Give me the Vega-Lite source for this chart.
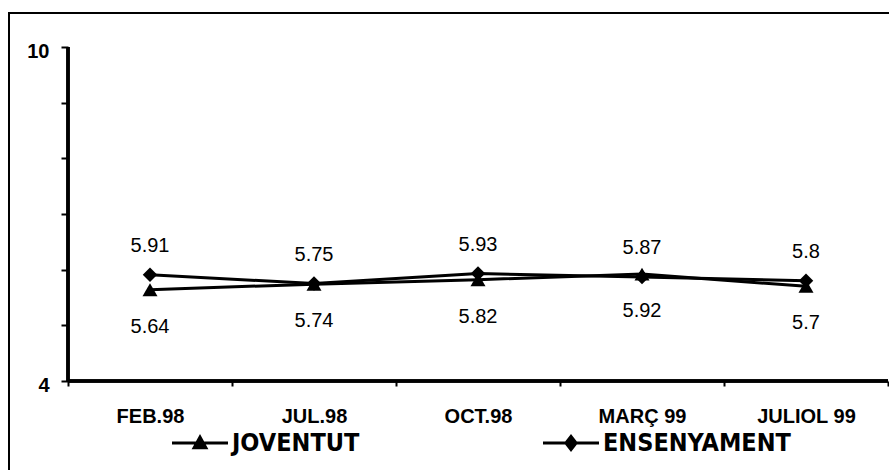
{
  "$schema": "https://vega.github.io/schema/vega-lite/v6.json",
  "width": 884,
  "height": 470,
  "autosize": {"type": "none"},
  "padding": {"left": 9, "top": 13, "right": 0, "bottom": 0},
  "background": "white",
  "config": {
    "view": {"stroke": "black", "strokeWidth": 2},
    "axis": {"grid": false, "labelColor": "black", "tickColor": "black", "labelFont": "Liberation Sans", "labelFontWeight": "bold", "labelFontSize": 20}
  },
  "datasets": {
    "scores": [
      {"date": "FEB.98", "series": "JOVENTUT", "value": 5.64},
      {"date": "JUL.98", "series": "JOVENTUT", "value": 5.74},
      {"date": "OCT.98", "series": "JOVENTUT", "value": 5.82},
      {"date": "MARÇ 99", "series": "JOVENTUT", "value": 5.92},
      {"date": "JULIOL 99", "series": "JOVENTUT", "value": 5.7},
      {"date": "FEB.98", "series": "ENSENYAMENT", "value": 5.91},
      {"date": "JUL.98", "series": "ENSENYAMENT", "value": 5.75},
      {"date": "OCT.98", "series": "ENSENYAMENT", "value": 5.93},
      {"date": "MARÇ 99", "series": "ENSENYAMENT", "value": 5.87},
      {"date": "JULIOL 99", "series": "ENSENYAMENT", "value": 5.8}
    ]
  },
  "data": {"name": "scores"},
  "layer": [
    {
      "mark": {"type": "line", "color": "black", "strokeWidth": 3},
      "encoding": {
        "x": {
          "field": "date",
          "type": "nominal",
          "sort": null,
          "scale": {"type": "band", "domain": ["FEB.98", "JUL.98", "OCT.98", "MARÇ 99", "JULIOL 99"], "paddingInner": 0, "paddingOuter": 0.1951, "align": 0.922},
          "axis": {"title": null, "orient": "bottom", "offset": -102, "domain": false, "tickBand": "extent", "tickSize": 5, "tickWidth": 2, "labelAngle": 0, "labelPadding": 20}
        },
        "y": {
          "field": "value",
          "type": "quantitative",
          "scale": {"domain": [2.1677, 10.6108], "nice": false, "zero": false},
          "axis": {"title": null, "offset": -59, "domain": false, "values": [4, 5, 6, 7, 8, 9, 10], "format": "d", "labelExpr": "datum.value == 4 || datum.value == 10 ? datum.label : ''", "tickSize": 7, "tickWidth": 2, "labelPadding": 12, "labelOffset": 4}
        },
        "detail": {"field": "series"}
      }
    },
    {
      "mark": {"type": "rule", "color": "black", "strokeWidth": 2.5},
      "encoding": {
        "x": {"datum": "FEB.98", "type": "nominal", "bandPosition": 0},
        "y": {"datum": 4, "type": "quantitative"},
        "y2": {"datum": 10}
      }
    },
    {
      "mark": {"type": "rule", "color": "black", "strokeWidth": 2.5},
      "encoding": {
        "x": {"datum": "FEB.98", "type": "nominal", "bandPosition": 0},
        "x2": {"datum": "JULIOL 99", "bandPosition": 1},
        "y": {"datum": 4, "type": "quantitative"}
      }
    },
    {
      "transform": [{"filter": "datum.series == 'JOVENTUT'"}],
      "mark": {"type": "point", "filled": true, "color": "black", "opacity": 1, "size": 225, "shape": "triangle-up"},
      "encoding": {
        "x": {"field": "date", "type": "nominal"},
        "y": {"field": "value", "type": "quantitative"}
      }
    },
    {
      "transform": [{"filter": "datum.series == 'ENSENYAMENT'"}],
      "mark": {"type": "point", "filled": true, "color": "black", "opacity": 1, "size": 210, "shape": "diamond"},
      "encoding": {
        "x": {"field": "date", "type": "nominal"},
        "y": {"field": "value", "type": "quantitative"}
      }
    },
    {
      "mark": {"type": "point", "filled": true, "color": "black", "opacity": 0, "size": 3136},
      "encoding": {
        "x": {"field": "date", "type": "nominal"},
        "y": {"field": "value", "type": "quantitative"},
        "shape": {
          "field": "series",
          "type": "nominal",
          "scale": {"domain": ["JOVENTUT", "ENSENYAMENT"], "range": ["M-1,-0.055H1V0.055H-1ZM-0.3,0.22L0,-0.32L0.3,0.22Z", "M-1,-0.055H1V0.055H-1ZM-0.25,0L0,-0.32L0.25,0L0,0.32Z"]},
          "legend": {
            "title": null,
            "orient": "none",
            "legendX": 163,
            "legendY": 402,
            "direction": "horizontal",
            "padding": 0,
            "symbolSize": 3136,
            "symbolStrokeWidth": 0,
            "symbolFillColor": "black",
            "symbolOpacity": 1,
            "labelFont": "DejaVu Sans Condensed",
            "labelFontSize": 25,
            "labelFontWeight": "bold",
            "labelColor": "black",
            "labelOffset": 4,
            "labelLimit": 400,
            "columnPadding": 183
          }
        }
      }
    },
    {
      "transform": [{"filter": "datum.series == 'ENSENYAMENT'"}],
      "mark": {"type": "text", "dy": -29, "baseline": "middle", "align": "center", "font": "Liberation Sans", "fontSize": 20, "color": "black"},
      "encoding": {
        "x": {"field": "date", "type": "nominal"},
        "y": {"field": "value", "type": "quantitative"},
        "text": {"field": "value", "type": "quantitative", "format": ".3~g"}
      }
    },
    {
      "transform": [{"filter": "datum.series == 'JOVENTUT'"}],
      "mark": {"type": "text", "dy": 37, "baseline": "middle", "align": "center", "font": "Liberation Sans", "fontSize": 20, "color": "black"},
      "encoding": {
        "x": {"field": "date", "type": "nominal"},
        "y": {"field": "value", "type": "quantitative"},
        "text": {"field": "value", "type": "quantitative", "format": ".3~g"}
      }
    }
  ]
}
